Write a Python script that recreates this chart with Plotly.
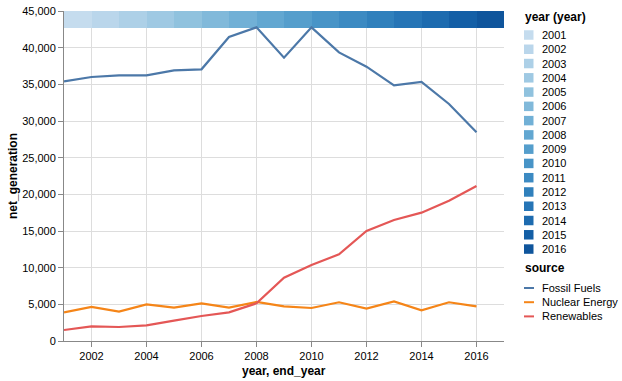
import plotly.graph_objects as go

years = list(range(2001, 2017))
fossil_fuels = [35410, 36000, 36230, 36230, 36910, 37050, 41450, 42770, 38640, 42770,
                39360, 37410, 34870, 35320, 32320, 28460]
nuclear_energy = [3910, 4640, 4000, 5000, 4550, 5140, 4550, 5320, 4730, 4500,
                  5280, 4410, 5410, 4180, 5280, 4730]
renewables = [1500, 2000, 1910, 2140, 2770, 3410, 3910, 5140, 8640, 10360,
              11820, 15000, 16500, 17500, 19130, 21140]
band_low = 42750
band_high = 45000
sources = ["Fossil Fuels", "Nuclear Energy", "Renewables"]
source_colors = ["#4c78a8", "#f58518", "#e45756"]
y_ticks = list(range(0, 45001, 5000))
x_ticks = list(range(2002, 2017, 2))

# Vega "blues" scheme, piecewise-linear rgb, sampled as an ordinal scale
blues = ["cfe1f2", "bed8ec", "a8cee5", "8fc1de", "74b2d7", "5ba3cf",
         "4592c6", "3181bd", "206fb2", "125ca4", "0a4a90"]


def interp(t):
    n = len(blues) - 1
    pos = t * n
    i = min(int(pos), n - 1)
    f = pos - i
    a = [int(blues[i][k:k + 2], 16) for k in (0, 2, 4)]
    b = [int(blues[i + 1][k:k + 2], 16) for k in (0, 2, 4)]
    c = [round(a[j] + (b[j] - a[j]) * f) for j in range(3)]
    return "rgb(%d,%d,%d)" % tuple(c)


cnt = len(years)
year_colors = [interp((i + 1) / (cnt + 1)) for i in range(cnt)]

fig = go.Figure()

# year -> end_year band
fig.add_trace(go.Bar(
    x=[y + 0.5 for y in years],
    y=[band_high - band_low] * cnt,
    base=[band_low] * cnt,
    width=[1] * cnt,
    marker=dict(color=year_colors, line=dict(width=0)),
    showlegend=False, hoverinfo="skip",
))

for name, vals, col in zip(sources, [fossil_fuels, nuclear_energy, renewables], source_colors):
    fig.add_trace(go.Scatter(
        x=years, y=vals, mode="lines", name=name,
        line=dict(color=col, width=2.2), showlegend=False,
    ))

W, H = 622, 381
L, R, T, B = 64, 118, 11, 40
pw, ph = W - L - R, H - T - B


def px(x):
    return (x - L) / pw


def py(y):
    return (H - B - y) / ph


font_family = "Liberation Sans, Arial, sans-serif"
annotations = []
shapes = []


def text(t, x, y, size, anchor="left", angle=0):
    annotations.append(dict(text=t, x=px(x), y=py(y), xref="paper", yref="paper",
                            xanchor=anchor, yanchor="middle", showarrow=False, textangle=angle,
                            font=dict(size=size, color="#000", family=font_family)))


# axis titles
text("<b>net_generation</b>", 13, (T + H - B) / 2, 12, anchor="center", angle=-90)
text("<b>year, end_year</b>", L + pw / 2, 371, 12, anchor="center")

# year legend
text("<b>year (year)</b>", 523, 17, 12)
step = 14.27
for i, (yr, col) in enumerate(zip(years, year_colors)):
    cy = 35 + i * step
    shapes.append(dict(type="rect", xref="paper", yref="paper",
                       x0=px(524), x1=px(533.5), y0=py(cy - 4.75), y1=py(cy + 4.75),
                       fillcolor=col, line=dict(width=0)))
    text(str(yr), 540, cy, 11)

# source legend
text("<b>source</b>", 523, 268, 12)
for i, (name, col) in enumerate(zip(sources, source_colors)):
    cy = 288 + i * 14.2
    shapes.append(dict(type="line", xref="paper", yref="paper",
                       x0=px(524), x1=px(534), y0=py(cy), y1=py(cy),
                       line=dict(color=col, width=2)))
    text(name, 540, cy, 11)

axis_common = dict(
    showgrid=True, gridcolor="#dddddd", gridwidth=1,
    showline=True, linecolor="#888888", linewidth=1,
    ticks="outside", ticklen=5, tickcolor="#888888",
    zeroline=False, layer="below traces", automargin=False,
    tickfont=dict(size=11, color="#000"),
)

fig.update_layout(
    width=W, height=H,
    margin=dict(l=L, r=R, t=T, b=B, autoexpand=False),
    paper_bgcolor="white", plot_bgcolor="white",
    font=dict(family=font_family, size=11, color="#000"),
    showlegend=False,
    bargap=0,
    xaxis=dict(range=[2001, 2017], tickvals=x_ticks, ticktext=[str(t) for t in x_ticks],
               **axis_common),
    yaxis=dict(range=[0, 45000], tickvals=y_ticks, ticktext=[f"{v:,}" for v in y_ticks],
               **axis_common),
    annotations=annotations,
    shapes=shapes,
)

fig.write_html("out.html", config={"displayModeBar": False},
               post_script="document.body.style.margin='0';document.body.style.overflow='hidden';")
